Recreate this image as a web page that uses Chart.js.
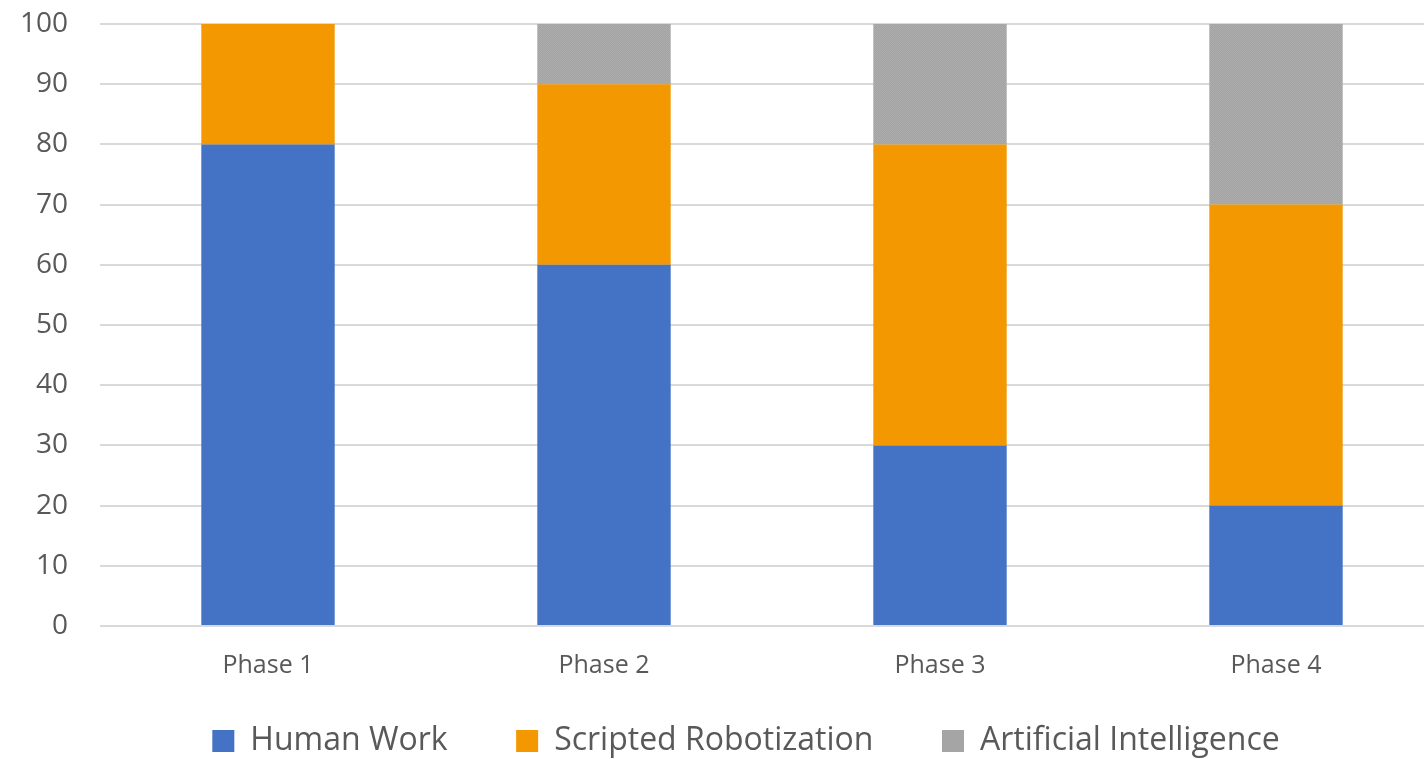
<!DOCTYPE html>
<html>
<head>
<meta charset="utf-8">
<script src="https://cdn.jsdelivr.net/npm/chart.js@4"></script>
<style>
html,body{margin:0;padding:0;background:#fff;overflow:hidden;}
#wrap{width:1444px;height:767px;}
</style>
</head>
<body>
<div id="wrap"><canvas id="c"></canvas></div>
<script>
const categories = ["Phase 1", "Phase 2", "Phase 3", "Phase 4"];
const humanWork = [80, 60, 30, 20];
const scriptedRobotization = [20, 30, 50, 50];
const artificialIntelligence = [0, 10, 20, 30];
const seriesNames = ["Human Work", "Scripted Robotization", "Artificial Intelligence"];

function grayPattern() {
  const p = document.createElement('canvas');
  p.width = 2; p.height = 2;
  const g = p.getContext('2d');
  g.fillStyle = '#a3a3a3'; g.fillRect(0,0,2,2);
  g.fillStyle = '#adadad'; g.fillRect(0,0,1,1); g.fillRect(1,1,1,1);
  return g.createPattern(p, 'repeat');
}

const shiftLegend = {
  id: 'shiftLegend',
  afterUpdate(chart) {
    const lg = chart.legend;
    if (!lg) return;
    const dx = 24;
    lg.left += dx; lg.right += dx;
    if (lg.legendHitBoxes) lg.legendHitBoxes.forEach(h => { h.left += dx; });
  }
};

const ctx = document.getElementById('c').getContext('2d');
new Chart(ctx, {
  type: 'bar',
  data: {
    labels: categories,
    datasets: [
      { label: seriesNames[0], data: humanWork, backgroundColor: '#4472C4' },
      { label: seriesNames[1], data: scriptedRobotization, backgroundColor: '#F39800' },
      { label: seriesNames[2], data: artificialIntelligence, backgroundColor: grayPattern() }
    ]
  },
  plugins: [shiftLegend],
  options: {
    responsive: true,
    maintainAspectRatio: false,
    animation: false,
    layout: { padding: { top: 24, left: 0, right: 0, bottom: 0 } },
    datasets: { bar: { categoryPercentage: 1, barPercentage: 0.397 } },
    plugins: {
      tooltip: { enabled: false },
      legend: {
        position: 'bottom',
        labels: {
          boxWidth: 22, boxHeight: 22,
          padding: 27,
          color: '#595959',
          font: { family: 'Open Sans', size: 32 },
          generateLabels(chart) {
            return chart.data.datasets.map((d, i) => ({
              text: i < 2 ? d.label + '     ' : d.label,
              fillStyle: i === 2 ? '#A5A5A5' : d.backgroundColor,
              strokeStyle: 'rgba(0,0,0,0)',
              lineWidth: 0,
              datasetIndex: i,
              hidden: false,
              fontColor: '#595959'
            }));
          }
        }
      }
    },
    scales: {
      x: {
        stacked: true,
        grid: { display: false },
        border: { display: false },
        ticks: { color: '#595959', font: { family: 'Open Sans', size: 25 }, padding: 17 }
      },
      y: {
        stacked: true,
        min: 0, max: 100,
        afterFit(scale) { scale.width = 100; scale.paddingTop = 0; scale.paddingBottom = 0; },
        grid: { color: '#D9D9D9', lineWidth: 2, drawTicks: false },
        border: { display: false },
        ticks: { stepSize: 10, color: '#595959', font: { family: 'Open Sans', size: 28 }, padding: 32 }
      }
    }
  }
});
</script>
</body>
</html>
